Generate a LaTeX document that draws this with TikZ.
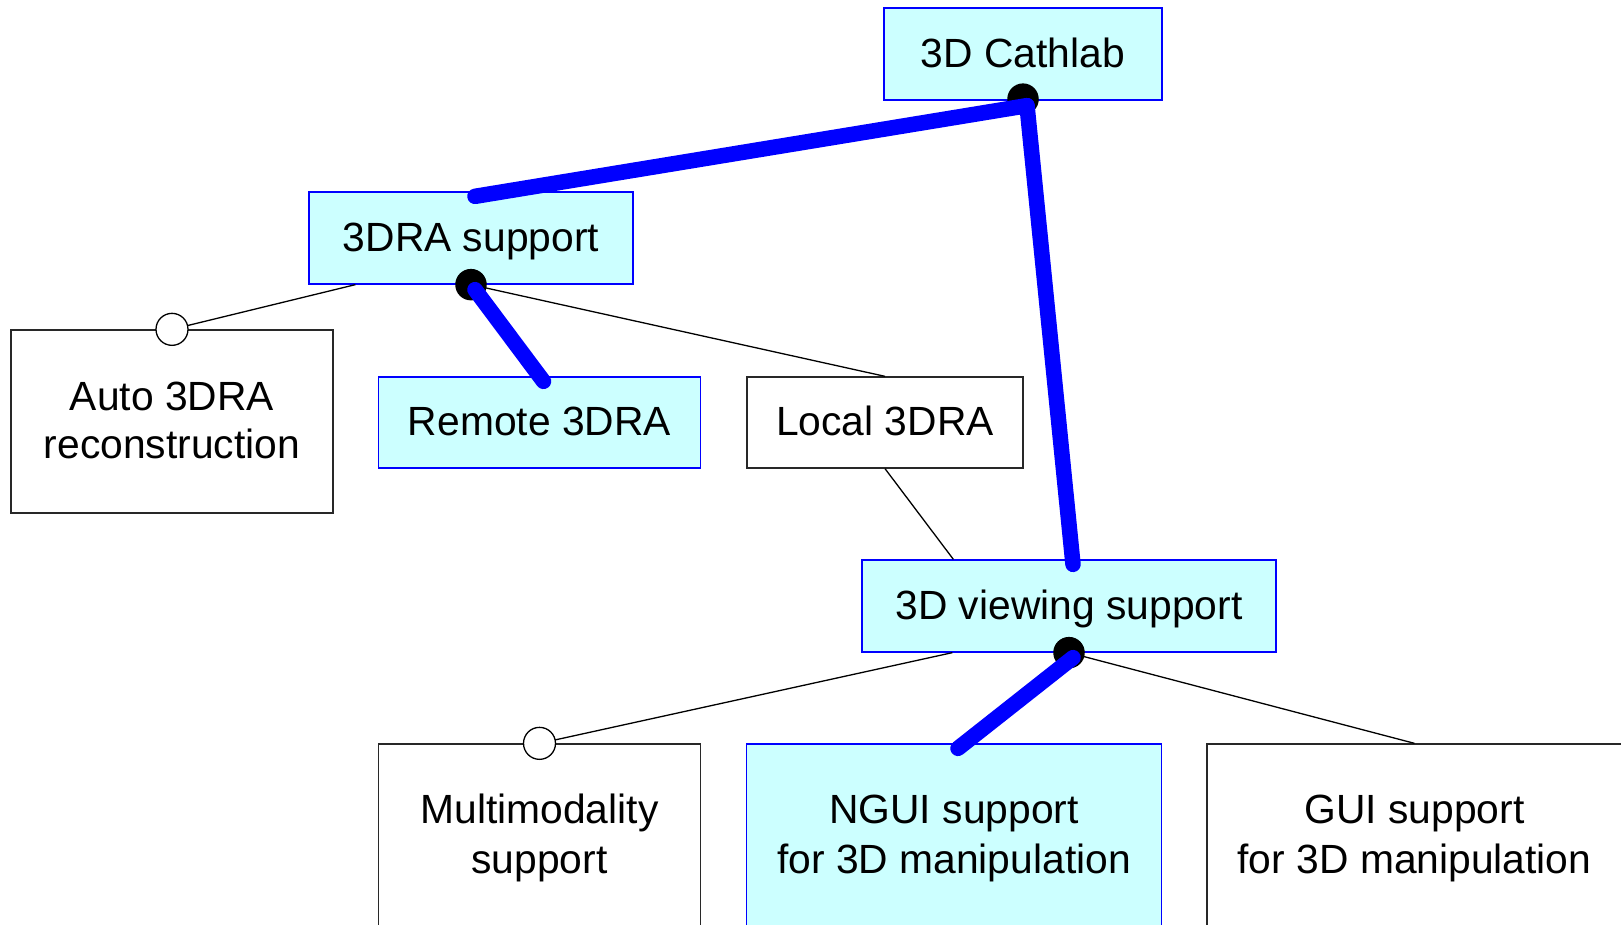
\documentclass[tikz,border=0pt]{standalone}
\usepackage{fontspec}
\setmainfont{Liberation Sans}
\usetikzlibrary{calc}
\definecolor{featfill}{RGB}{204,255,255}
\definecolor{featblue}{RGB}{0,0,255}
\definecolor{edgegray}{RGB}{40,40,40}

\begin{document}
\begin{tikzpicture}[x=1pt,y=-1pt,
  box/.style={rectangle, draw=edgegray, line width=1.3pt, fill=white,
    inner sep=0pt, font=\fontsize{40.8}{48}\selectfont,
    text height=29.2pt, text depth=3pt},
  selbox/.style={box, draw=featblue, fill=featfill},
  label2/.style={inner sep=0pt, align=center, font=\fontsize{40.8}{50}\selectfont},
  thin/.style={draw=black, line width=1.3pt},
  chosen/.style={draw=featblue, line width=15.5pt, line cap=round, line join=round},
  optmark/.style={circle, draw=black, line width=1.3pt, fill=white,
    minimum size=32pt, inner sep=0pt},
  mandmark/.style={circle, fill=black, minimum size=31.5pt, inner sep=0pt}]

\path[use as bounding box] (0,0) rectangle (1621,925);
\clip (0,0) rectangle (1621,925);

% feature boxes
\node[selbox, minimum width=278pt, minimum height=92pt] (cath) at (1023,54) {3D Cathlab};
\node[selbox, minimum width=324pt, minimum height=92pt] (dra) at (471,238) {3DRA support};
\node[box, minimum width=322pt, minimum height=183pt] (auto) at (172,421.5) {};
\node[label2, font=\fontsize{40.8}{47.3}\selectfont] (autoT) at (172,420.4) {Auto 3DRA\\reconstruction};
\node[selbox, minimum width=322pt, minimum height=91pt] (remote) at (539.5,422.5) {Remote 3DRA};
\node[box, minimum width=276pt, minimum height=91pt] (local) at (885,422.5) {Local 3DRA};
\node[selbox, minimum width=414pt, minimum height=92pt] (view) at (1069,606) {3D viewing support};
\node[box, minimum width=322pt, minimum height=183pt] (multi) at (539.5,835.5) {};
\node[label2] (multiT) at (539.5,838.2) {Multimodality\\support};
\node[selbox, minimum width=415pt, minimum height=183pt] (ngui) at (954,835.5) {};
\node[label2] (nguiT) at (954,838.2) {NGUI support\\for 3D manipulation};
\node[box, minimum width=415pt, minimum height=183pt] (gui) at (1414.5,835.5) {};
\node[label2] (guiT) at (1414.5,838.2) {GUI support\\for 3D manipulation};

% plain feature links
\draw[thin] ($(dra.south west)+(47,0)$) -- (auto.north);
\draw[thin] (dra.south) -- (local.north);
\draw[thin] (local.south) -- ($(view.north west)+(92,0)$);
\draw[thin] ($(view.south west)+(91,0)$) -- (multi.north);
\draw[thin] (view.south) -- (gui.north);

% optional markers
\node[optmark] (autoO) at (auto.north) {};
\node[optmark] (multiO) at (multi.north) {};

% group markers
\node[mandmark] (cathD) at ($(cath.south)+(0,-1.5)$) {};
\node[mandmark] (draD) at (dra.south) {};
\node[mandmark] (viewD) at (view.south) {};

% selected configuration
\draw[chosen] ($(cath.south)+(4,5)$) -- ($(dra.north)+(4,5)$);
\draw[chosen] ($(cath.south)+(4,5)$) -- ($(view.north)+(4,5)$);
\draw[chosen] ($(dra.south)+(4,5)$) -- ($(remote.north)+(4,5)$);
\draw[chosen] ($(view.south)+(4,5)$) -- ($(ngui.north)+(4,5)$);
\end{tikzpicture}
\end{document}
